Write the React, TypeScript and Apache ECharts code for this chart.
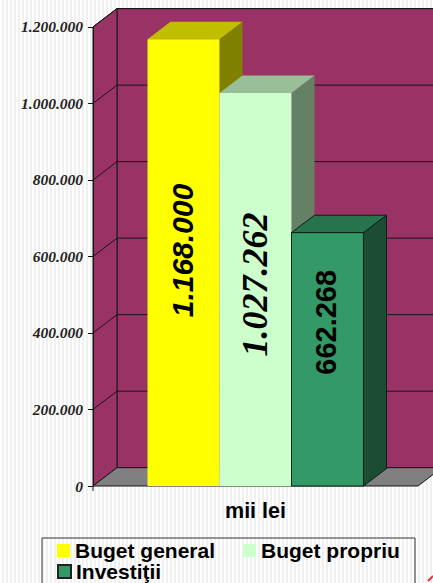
import React, { useEffect, useRef } from "react";
import * as echarts from "echarts";

const category = "mii lei";
const seriesNames = ["Buget general", "Buget propriu", "Investiţii"];
const seriesValues = [1168000, 1027262, 662268];
const axisTicks = [0, 200000, 400000, 600000, 800000, 1000000, 1200000];
const frontColors = ["#ffff00", "#ccffcc", "#339966"];
const topColors = ["#bfbf00", "#99bf99", "#26734d"];
const sideColors = ["#808000", "#668066", "#1a4d33"];
const edgeColors = ["none", "none", "#0a2015"];
const labelFamilies = ["Liberation Sans", "Liberation Serif", "Liberation Sans"];
const labelStyles = ["italic", "italic", "normal"];
const labelSizes = [30, 36, 29];
const labelShifts = [-12, -5, -37];

const WALL_DX = 24;
const WALL_DY = -18.3;
const BAR_DX = 23;
const BAR_DY = -17.4;
const BAR_FRACTION = 0.2215;
const LINE = "#161616";

const dotted = (v: number) => String(v).replace(/\B(?=(\d{3})+$)/g, ".");

export default function App() {
  const ref = useRef<HTMLDivElement>(null);
  useEffect(() => {
    document.body.style.margin = "0";
    const chart = echarts.init(ref.current!, undefined, { renderer: "svg" });

    const wallsRender = (_: any, api: any) => {
      const [x0, y0] = api.coord([0, 0]);
      const band = api.size([1, 0])[0];
      const left = x0 - band / 2;
      const right = x0 + band / 2;
      const [, yTop] = api.coord([0, axisTicks[axisTicks.length - 1]]);
      const pts = (p: number[][]) => ({ points: p });
      return {
        type: "group",
        children: [
          {
            type: "polygon",
            shape: pts([[left + WALL_DX, yTop + WALL_DY], [right + 60, yTop + WALL_DY], [right + 60, y0 + WALL_DY], [left + WALL_DX, y0 + WALL_DY]]),
            style: { fill: "#993366", stroke: LINE, lineWidth: 1 },
          },
          {
            type: "polygon",
            shape: pts([[left, yTop], [left + WALL_DX, yTop + WALL_DY], [left + WALL_DX, y0 + WALL_DY], [left, y0]]),
            style: { fill: "#993366", stroke: LINE, lineWidth: 1 },
          },
          {
            type: "polygon",
            shape: pts([[left, y0], [right, y0], [right + WALL_DX, y0 + WALL_DY], [left + WALL_DX, y0 + WALL_DY]]),
            style: { fill: "#808080", stroke: LINE, lineWidth: 1 },
          },
          {
            type: "line",
            shape: { x1: left, y1: y0, x2: left, y2: y0 + 5 },
            style: { stroke: LINE, lineWidth: 1 },
          },
        ],
      };
    };

    const gridRender = (_: any, api: any) => {
      const [x0, y] = api.coord([0, api.value(0)]);
      const band = api.size([1, 0])[0];
      const left = x0 - band / 2;
      return {
        type: "polyline",
        shape: { points: [[left, y], [left + WALL_DX, y + WALL_DY], [x0 + band / 2 + 60, y + WALL_DY]] },
        style: { fill: "none", stroke: LINE, lineWidth: 1 },
      };
    };

    const barRender = (i: number) => (_: any, api: any) => {
      const value = api.value(1);
      const [cx, yTop] = api.coord([api.value(0), value]);
      const [, yBase] = api.coord([api.value(0), 0]);
      const w = api.size([1, 0])[0] * BAR_FRACTION;
      const l = cx + (i - 1.5) * w;
      const r = l + w;
      const stroke = edgeColors[i];
      return {
        type: "group",
        children: [
          {
            type: "polygon",
            shape: { points: [[r, yTop], [r + BAR_DX, yTop + BAR_DY], [r + BAR_DX, yBase + BAR_DY], [r, yBase]] },
            style: { fill: sideColors[i], stroke, lineWidth: 1 },
          },
          {
            type: "polygon",
            shape: { points: [[l, yTop], [l + BAR_DX, yTop + BAR_DY], [r + BAR_DX, yTop + BAR_DY], [r, yTop]] },
            style: { fill: topColors[i], stroke, lineWidth: 1 },
          },
          {
            type: "rect",
            shape: { x: l, y: yTop, width: w, height: yBase - yTop },
            style: { fill: frontColors[i], stroke, lineWidth: 1 },
          },
          {
            type: "text",
            x: (l + r) / 2 - 1,
            y: (yTop + yBase) / 2 + labelShifts[i],
            rotation: Math.PI / 2,
            style: {
              text: dotted(value),
              fontFamily: labelFamilies[i],
              fontStyle: labelStyles[i],
              fontWeight: "bold",
              fontSize: labelSizes[i],
              fill: "#000",
              align: "center",
              verticalAlign: "middle",
            },
          },
        ],
      };
    };

    const legendText = {
      fontFamily: "Liberation Sans",
      fontWeight: "bold" as const,
      fontSize: 21,
      color: "#000",
    };
    const legendBase = {
      orient: "horizontal" as const,
      padding: 0,
      itemWidth: 13,
      itemHeight: 13,
      itemGap: 28,
      icon: "rect",
      selectedMode: false,
      textStyle: legendText,
    };

    chart.setOption({
      animation: false,
      backgroundColor: "transparent",
      grid: { left: 93, top: 26.9, width: 325, height: 459.1, containLabel: false },
      xAxis: {
        type: "category",
        data: [category],
        axisLine: { show: false },
        axisTick: { show: false },
        axisLabel: {
          fontFamily: "Liberation Sans",
          fontWeight: "bold",
          fontSize: 21.5,
          color: "#000",
          margin: 14,
        },
      },
      yAxis: {
        type: "value",
        min: 0,
        max: 1200000,
        interval: 200000,
        splitLine: { show: false },
        axisLine: { show: true, onZero: false, lineStyle: { color: LINE, width: 1 } },
        axisTick: { show: true, length: 5, lineStyle: { color: LINE, width: 1 } },
        z: 10,
        axisLabel: {
          fontFamily: "Liberation Serif",
          fontStyle: "italic",
          fontWeight: "bold",
          fontSize: 15.5,
          color: "#222",
          margin: 10,
          formatter: (v: number) => dotted(v),
        },
      },
      legend: [
        { ...legendBase, left: 57, top: 540, data: [seriesNames[0], seriesNames[1]] },
        { ...legendBase, left: 57, top: 561, data: [seriesNames[2]] },
      ],
      graphic: [
        {
          type: "rect",
          shape: { x: 42, y: 538, width: 373, height: 50 },
          style: { fill: "none", stroke: "#333", lineWidth: 1 },
        },
        {
          type: "line",
          shape: { x1: 428, y1: 581, x2: 433, y2: 576 },
          style: { stroke: "#f03030", lineWidth: 2 },
        },
      ],
      series: [
        {
          type: "custom",
          name: "walls",
          renderItem: wallsRender,
          data: [[0]],
          encode: { y: 0 },
          clip: false,
          silent: true,
          z: 1,
        },
        {
          type: "custom",
          name: "gridlines",
          renderItem: gridRender,
          data: axisTicks.slice(1).map((t) => [t]),
          encode: { y: 0 },
          clip: false,
          silent: true,
          z: 2,
        },
        ...seriesNames.map((name, i) => ({
          type: "custom",
          name,
          renderItem: barRender(i),
          data: [[category, seriesValues[i]]],
          encode: { x: 0, y: 1 },
          clip: false,
          z: 3 + i,
          itemStyle: {
            color: frontColors[i],
            borderColor: i === 2 ? "#222" : undefined,
            borderWidth: i === 2 ? 1 : 0,
          },
        })),
      ],
    });
    return () => chart.dispose();
  }, []);

  return (
    <div
      ref={ref}
      style={{
        position: "absolute",
        left: 0,
        top: 0,
        width: 433,
        height: 583,
        overflow: "hidden",
        backgroundImage:
          "repeating-linear-gradient(90deg, #ffffff 0, #ffffff 2px, #f0f0f0 2px, #f0f0f0 4px)",
      }}
    />
  );
}
